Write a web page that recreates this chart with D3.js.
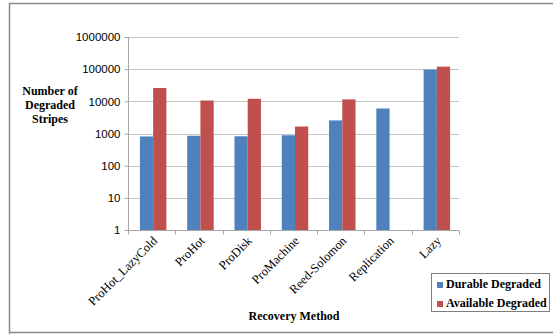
<!DOCTYPE html>
<html>
<head>
<meta charset="utf-8">
<script src="https://cdnjs.cloudflare.com/ajax/libs/d3/7.8.5/d3.min.js"></script>
<style>
  body { margin: 0; background: #fff; }
  svg { display: block; font-family: "Liberation Serif", "Times New Roman", serif; }
  .grid line { stroke: #c4c4c4; stroke-width: 1; }
  .axis path, .axis line { stroke: #a6a6a6; }
</style>
</head>
<body>
<svg id="chart" width="553" height="334"></svg>
<script>
// chart values
var methods = ["ProHot_LazyCold", "ProHot", "ProDisk", "ProMachine", "Reed-Solomon", "Replication", "Lazy"];
var durable = [810, 850, 820, 880, 2550, 6000, 97000];
var available = [26000, 10600, 12000, 1650, 11500, 0, 120000];
var seriesNames = ["Durable Degraded", "Available Degraded"];
var yTicks = [1, 10, 100, 1000, 10000, 100000, 1000000];

var colors = ["#4f81bd", "#c0504d"];

var svg = d3.select("svg#chart"),
    margin = {top: 37, right: 94, bottom: 104, left: 128},
    width = +svg.attr("width") - margin.left - margin.right,
    height = +svg.attr("height") - margin.top - margin.bottom;

// outer frame
svg.append("path")
  .attr("d", "M9.5,335 V3.5 H560 M9.5,332.5 H560")
  .attr("fill", "none")
  .attr("stroke", "#8c8c8c")
  .attr("stroke-width", 1.5);

var g = svg.append("g")
  .attr("transform", "translate(" + margin.left + "," + margin.top + ")");

var x0 = d3.scaleBand().domain(methods).range([1.5, width + 1.5]).paddingInner(0.44).paddingOuter(0.22);
var x1 = d3.scaleBand().domain([0, 1]).range([0, x0.bandwidth()]);
var y = d3.scaleLog().domain([1, 1000000]).range([height, 0]);

// gridlines
g.append("g")
  .attr("class", "grid")
  .selectAll("line")
  .data(yTicks.slice(1))
  .enter().append("line")
  .attr("x1", 0)
  .attr("x2", width)
  .attr("y1", function(d) { return Math.round(y(d)) + 0.5; })
  .attr("y2", function(d) { return Math.round(y(d)) + 0.5; });

// bars
var groups = g.selectAll("g.cat")
  .data(methods)
  .enter().append("g")
  .attr("class", "cat")
  .attr("transform", function(d) { return "translate(" + x0(d) + ",0)"; });

groups.selectAll("rect")
  .data(function(d, i) { return [durable[i], available[i]]; })
  .enter().filter(function(d) { return d > 0; }).append("rect")
  .attr("x", function(d, j) { return x1(j); })
  .attr("width", x1.bandwidth())
  .attr("y", function(d) { return y(d); })
  .attr("height", function(d) { return height - y(d); })
  .attr("fill", function(d, j) { return colors[j]; });

// y axis
var yAxis = g.append("g")
  .attr("class", "axis")
  .attr("transform", "translate(0.5,0)")
  .call(d3.axisLeft(y).tickValues(yTicks).tickFormat(d3.format("d")).tickSize(4).tickPadding(4));
yAxis.selectAll("text").attr("font-size", 11.5).attr("fill", "#000");
yAxis.select(".domain").attr("d", "M0," + (height + 0.5) + "V0");

// x axis with ticks at category boundaries
var step = width / methods.length;
var xAxis = g.append("g")
  .attr("class", "axis")
  .attr("transform", "translate(0," + (height + 0.5) + ")");
xAxis.append("line").attr("x1", 0).attr("x2", width);
xAxis.selectAll("line.tk")
  .data(d3.range(methods.length + 1))
  .enter().append("line")
  .attr("class", "tk")
  .attr("x1", function(i) { return Math.round(i * step) + 0.5; })
  .attr("x2", function(i) { return Math.round(i * step) + 0.5; })
  .attr("y1", 0).attr("y2", 4);

xAxis.selectAll("text")
  .data(methods)
  .enter().append("text")
  .attr("transform", function(d) {
    return "translate(" + (x0(d) + x0.bandwidth() / 2 + 5) + ",11) rotate(-45)";
  })
  .attr("text-anchor", "end")
  .attr("font-size", 12.5)
  .attr("fill", "#000")
  .text(function(d) { return d; });

// axis titles
svg.append("text")
  .attr("x", 294)
  .attr("y", 320)
  .attr("text-anchor", "middle")
  .attr("font-size", 12)
  .attr("font-weight", "bold")
  .text("Recovery Method");

svg.append("text")
  .attr("text-anchor", "middle")
  .attr("font-size", 12)
  .attr("font-weight", "bold")
  .selectAll("tspan")
  .data(["Number of", "Degraded", "Stripes"])
  .enter().append("tspan")
  .attr("x", 50)
  .attr("y", function(d, i) { return 95 + i * 14; })
  .text(function(d) { return d; });

// legend
var legend = svg.append("g").attr("transform", "translate(431,273)");
legend.append("rect")
  .attr("x", 0.5).attr("y", 0.5)
  .attr("width", 118).attr("height", 38)
  .attr("fill", "#fff")
  .attr("stroke", "#7f7f7f");

var items = legend.selectAll("g.item")
  .data(seriesNames)
  .enter().append("g")
  .attr("class", "item")
  .attr("transform", function(d, i) { return "translate(6," + (9 + i * 19) + ")"; });
items.append("rect")
  .attr("width", 6).attr("height", 6)
  .attr("fill", function(d, i) { return colors[i]; });
items.append("text")
  .attr("x", 9)
  .attr("y", 6)
  .attr("font-size", 12)
  .attr("font-weight", "bold")
  .text(function(d) { return d; });
</script>
</body>
</html>
